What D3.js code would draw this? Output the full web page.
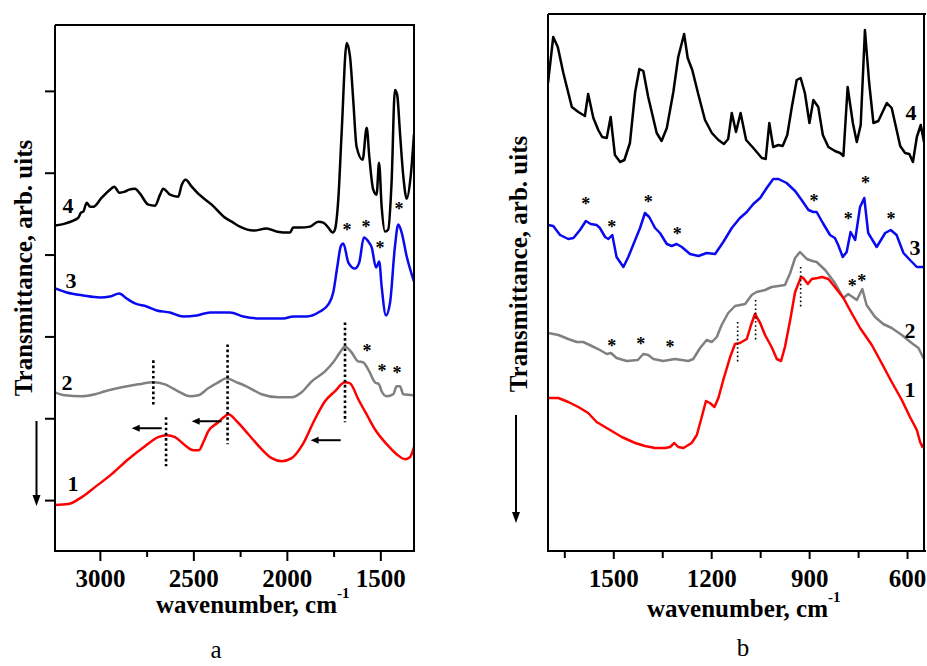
<!DOCTYPE html>
<html><head><meta charset="utf-8">
<script src="https://cdn.jsdelivr.net/npm/d3@7"></script>
<style>body{margin:0;background:#fff}svg{display:block}</style>
</head><body><svg id="c" width="927" height="666"></svg>
<script>
// ---------- DATA (wavenumber cm-1, transmittance arb. units) ----------
// Panel a
const a4 = [[3240,326],[3187,328],[3142,331],[3115,334],[3101,339],[3089,340],[3070,349],[3053,345],[3035,345],[2990,354],[2946,362],[2923,365],[2896,359],[2866,360],[2844,362],[2812,363],[2785,358],[2741,347],[2705,346],[2678,357],[2661,363],[2625,357],[2581,355],[2562,367],[2541,372],[2509,365],[2474,358],[2402,347],[2331,334],[2295,330],[2251,325],[2180,321],[2108,323],[2054,320],[2019,319],[1983,319],[1966,324],[1930,324],[1876,325],[1832,330],[1805,329],[1778,324],[1755,319],[1743,322],[1725,352],[1707,419],[1680,509],[1662,495],[1645,452],[1627,405],[1595,392],[1573,424],[1559,395],[1538,362],[1520,357],[1507,389],[1493,345],[1475,320],[1458,322],[1440,369],[1422,462],[1410,457],[1395,419],[1377,375],[1359,353],[1338,375],[1320,418]];
const a3 = [[3240,263],[3177,259],[3089,256],[3000,254],[2946,255],[2896,258],[2857,253],[2812,248],[2750,245],[2696,241],[2625,239],[2554,235],[2482,236],[2411,239],[2304,239],[2233,235],[2144,233],[2019,233],[1966,235],[1894,235],[1823,240],[1778,247],[1752,259],[1730,285],[1712,305],[1698,308],[1671,289],[1636,283],[1613,289],[1588,314],[1564,310],[1546,304],[1523,284],[1506,290],[1493,265],[1470,236],[1448,249],[1422,305],[1404,327],[1386,319],[1359,295],[1320,270]];
const a2 = [[3240,159],[3187,156],[3097,155],[3026,157],[2973,160],[2883,164],[2795,167],[2714,169],[2652,167],[2581,160],[2518,155],[2474,156],[2421,163],[2367,169],[2322,173],[2268,169],[2206,164],[2135,157],[2046,154],[1974,154],[1921,159],[1867,170],[1796,180],[1752,189],[1716,199],[1689,205],[1654,199],[1619,190],[1592,189],[1565,182],[1529,169],[1507,167],[1493,160],[1466,155],[1431,157],[1413,165],[1395,165],[1377,157],[1320,156]];
const a1 = [[3240,46],[3169,47],[3097,54],[3026,64],[2937,77],[2848,92],[2759,105],[2688,114],[2643,116],[2598,114],[2545,106],[2500,101],[2470,101],[2447,109],[2420,120],[2367,129],[2331,135],[2313,137],[2268,130],[2206,117],[2135,102],[2081,93],[2028,90],[1974,93],[1921,105],[1850,132],[1796,150],[1743,160],[1689,169],[1662,168],[1618,152],[1565,134],[1529,122],[1466,107],[1413,97],[1368,92],[1342,94],[1320,104]];
// Panel b
const b4 = [[1700,468],[1684,514],[1670,504],[1653,478],[1627,444],[1607,439],[1587,435],[1577,457],[1561,433],[1546,421],[1534,414],[1520,413],[1508,434],[1495,396],[1479,389],[1466,391],[1449,408],[1433,459],[1420,482],[1408,480],[1393,454],[1367,418],[1352,410],[1336,423],[1316,459],[1301,494],[1283,517],[1272,493],[1258,481],[1239,456],[1219,431],[1198,418],[1178,411],[1161,407],[1148,412],[1137,438],[1124,419],[1110,438],[1093,411],[1071,403],[1045,393],[1033,392],[1022,428],[1010,404],[994,406],[981,405],[967,416],[953,444],[938,471],[926,473],[913,458],[899,428],[887,451],[872,444],[858,416],[841,404],[821,400],[805,398],[795,395],[782,464],[766,428],[754,409],[742,426],[729,521],[716,468],[703,428],[688,430],[662,448],[647,443],[621,405],[606,398],[593,397],[582,389],[570,414],[558,426],[545,404]];
const b3 = [[1699,326],[1684,325],[1663,316],[1638,312],[1622,313],[1602,321],[1584,330],[1569,327],[1551,326],[1541,323],[1525,314],[1515,312],[1503,316],[1490,294],[1469,284],[1454,294],[1433,311],[1418,323],[1403,338],[1390,334],[1372,323],[1357,318],[1336,307],[1321,305],[1306,307],[1290,304],[1265,297],[1239,295],[1214,298],[1188,297],[1163,309],[1137,323],[1112,333],[1091,339],[1071,347],[1050,353],[1030,363],[1010,372],[994,372],[969,368],[943,360],[923,351],[902,341],[887,339],[877,339],[858,328],[836,316],[821,313],[811,306],[797,294],[785,299],[773,319],[759,311],[744,344],[731,353],[719,318],[693,304],[667,318],[650,321],[632,316],[611,298],[591,291],[570,284],[545,284]];
const b2 = [[1699,218],[1668,216],[1638,212],[1612,209],[1592,209],[1566,205],[1541,201],[1520,197],[1507,198],[1490,193],[1459,190],[1425,191],[1408,197],[1393,196],[1377,192],[1347,190],[1311,192],[1290,191],[1270,190],[1255,192],[1234,203],[1214,211],[1198,209],[1183,214],[1168,226],[1148,238],[1127,245],[1096,247],[1076,256],[1061,259],[1035,261],[1015,264],[994,265],[974,266],[958,278],[943,293],[928,299],[907,292],[890,290],[877,289],[851,281],[821,268],[795,253],[780,257],[754,251],[737,262],[724,246],[698,234],[673,227],[647,223],[616,216],[586,208],[565,203],[550,193],[545,192]];
const b1 = [[1699,153],[1668,153],[1638,149],[1607,144],[1577,138],[1551,129],[1515,122],[1474,114],[1433,108],[1403,105],[1372,103],[1341,103],[1326,104],[1313,108],[1301,104],[1285,103],[1260,108],[1244,116],[1229,134],[1216,150],[1204,148],[1190,144],[1178,153],[1163,171],[1142,194],[1127,207],[1112,208],[1091,212],[1078,226],[1066,237],[1050,228],[1035,216],[1015,204],[999,192],[986,190],[974,204],[958,231],[943,259],[925,274],[918,273],[904,267],[892,272],[874,273],[860,274],[841,272],[821,264],[795,253],[770,238],[744,223],[708,206],[678,188],[647,169],[616,151],[591,134],[570,121],[560,109],[553,104],[545,109]];

// tick labels
const aMajorTicks = [3000, 2500, 2000, 1500];
const aMinorTicks = [2750, 2250, 1750];
const aYTicks = [51, 133, 215, 297, 379, 461];
const bMajorTicks = [1500, 1200, 900, 600];
const bMinorTicks = [1650, 1350, 1050, 750];

// annotations (data coordinates)
const aLabels = [["4",3170,346],["3",3154,271],["2",3176,169],["1",3144,67]];
const aStars = [[1678,324],[1577,327],[1502,306],[1400,345],[1572,203],[1491,183],[1411,181]];
const aDots = [[2714,191,144],[2646,134,85],[2317,207,107],[1689,229,129]];
const aArrows = [[2669,2830,123],[2349,2509,130],[1712,1873,111]];
const bLabels = [["4",588,438],["3",576,303],["2",591,220],["1",591,161]];
const bStars = [[1584,350],[1505,327],[1393,352],[1304,320],[885,353],[780,335],[727,371],[649,335],[768,268],[739,273],[1505,208],[1416,210],[1326,207]];
const bDots = [[1119,229,188],[1064,251,209],[926,284,243]];

// ---------- DRAW ----------
const svg = d3.select('#c');
const serif = '"Liberation Serif","Times New Roman",Times,serif';

function arrow(g, x1, y1, x2, y2, hl, hw) {
  const dx = x2 - x1, dy = y2 - y1, L = Math.hypot(dx, dy);
  const ux = dx / L, uy = dy / L;
  const bx = x2 - ux * hl, by = y2 - uy * hl;
  g.append('line').attr('x1', x1).attr('y1', y1).attr('x2', bx + ux * 1).attr('y2', by + uy * 1)
    .attr('stroke', '#000').attr('stroke-width', 2);
  g.append('path').attr('d', `M${x2},${y2}L${bx - uy * hw / 2},${by + ux * hw / 2}L${bx + uy * hw / 2},${by - ux * hw / 2}Z`)
    .attr('fill', '#000');
}

function panel(cfg) {
  const g = svg.append('g');
  const x = d3.scaleLinear().domain(cfg.xDomain).range([cfg.left, cfg.right]);
  const y = d3.scaleLinear().domain(cfg.yDomain).range([cfg.bottom, cfg.top]);
  const clipId = 'clip' + cfg.id;
  svg.append('clipPath').attr('id', clipId).append('rect')
    .attr('x', cfg.left).attr('y', cfg.top).attr('width', cfg.right - cfg.left).attr('height', cfg.bottom - cfg.top);

  const line = d3.line().x(d => x(d[0])).y(d => y(d[1])).curve(cfg.curve);
  const cg = g.append('g').attr('clip-path', `url(#${clipId})`);
  cfg.series.forEach(s => {
    cg.append('path').datum(s.data).attr('d', line).attr('fill', 'none')
      .attr('stroke', s.color).attr('stroke-width', 2.5).attr('stroke-linejoin', 'round');
  });

  cfg.dots.forEach(d => {
    g.append('line').attr('x1', x(d[0])).attr('x2', x(d[0])).attr('y1', y(d[1])).attr('y2', y(d[2]))
      .attr('stroke', '#000').attr('stroke-width', cfg.dotW).attr('stroke-dasharray', cfg.dotDash);
  });
  (cfg.arrows || []).forEach(a => arrow(g, x(a[0]), y(a[2]), x(a[1]), y(a[2]), 8, 7));

  cfg.stars.forEach(s => {
    g.append('text').attr('x', x(s[0])).attr('y', y(s[1])).attr('dy', '0.48em')
      .attr('text-anchor', 'middle').attr('font-family', serif).attr('font-weight', 'bold')
      .attr('font-size', 18).text('*');
  });
  cfg.labels.forEach(l => {
    g.append('text').attr('x', x(l[1])).attr('y', y(l[2])).attr('dy', '0.33em')
      .attr('text-anchor', 'middle').attr('font-family', serif).attr('font-weight', 'bold')
      .attr('font-size', 22).text(l[0]);
  });

  const fr = g.append('g').attr('fill', 'none').attr('stroke', '#000').attr('stroke-width', 2);
  fr.append('line').attr('x1', cfg.left).attr('x2', cfg.right + 1).attr('y1', cfg.top).attr('y2', cfg.top);
  fr.append('line').attr('x1', cfg.left).attr('x2', cfg.left).attr('y1', cfg.top).attr('y2', cfg.bottom);
  fr.append('line').attr('x1', cfg.rightBorder).attr('x2', cfg.rightBorder).attr('y1', cfg.top).attr('y2', cfg.bottom);

  const xa = d3.axisBottom(x).tickValues(cfg.major).tickSize(cfg.majorLen).tickSizeOuter(0).tickPadding(cfg.pad).tickFormat(d3.format('d'));
  const gx = g.append('g').attr('transform', `translate(0,${cfg.bottom})`).call(xa);
  gx.select('.domain').attr('stroke-width', 2).attr('d', `M${cfg.left - 1},0H${cfg.right + 1}`);
  gx.selectAll('.tick line').attr('stroke-width', 2);
  gx.selectAll('text').attr('font-family', serif).attr('font-weight', 'bold').attr('font-size', 25).attr('fill', '#000');
  const xm = d3.axisBottom(x).tickValues(cfg.minor).tickSize(cfg.minorLen).tickSizeOuter(0).tickFormat('');
  const gm = g.append('g').attr('transform', `translate(0,${cfg.bottom})`).call(xm);
  gm.select('.domain').remove();
  gm.selectAll('.tick line').attr('stroke-width', 2);

  if (cfg.yTicks) {
    const ya = d3.axisLeft(y).tickValues(cfg.yTicks).tickSize(10).tickSizeOuter(0).tickFormat('');
    const gy = g.append('g').attr('transform', `translate(${cfg.left},0)`).call(ya);
    gy.select('.domain').remove();
    gy.selectAll('.tick line').attr('stroke-width', 2);
  }

  const t = g.append('text').attr('x', cfg.titleX).attr('y', cfg.titleY)
    .attr('font-family', serif).attr('font-weight', 'bold').attr('font-size', 25).attr('fill', '#000');
  t.append('tspan').text('wavenumber, cm');
  t.append('tspan').attr('dy', -15).attr('font-size', 15).text('-1');

  g.append('text').attr('transform', `translate(${cfg.yTitleX},${cfg.yTitleY}) rotate(-90)`)
    .attr('text-anchor', 'middle').attr('font-family', serif).attr('font-weight', 'bold')
    .attr('font-size', 25).text('Transmittance, arb. uits');
  arrow(g, cfg.bigArrowX, cfg.bigArrowY1, cfg.bigArrowX, cfg.bigArrowY2, 11, 8);

  g.append('text').attr('x', cfg.letterX).attr('y', cfg.letterY).attr('text-anchor', 'middle')
    .attr('font-family', serif).attr('font-size', 25).text(cfg.letter);
}

panel({
  id: 'a', xDomain: [3240, 1320], left: 55, right: 414, rightBorder: 414,
  yDomain: [0, 527], top: 25, bottom: 551,
  curve: d3.curveMonotoneX,
  series: [{data: a4, color: '#000000'}, {data: a3, color: '#0a0af0'}, {data: a2, color: '#808080'}, {data: a1, color: '#ff0000'}],
  dots: aDots, dotW: 2.6, dotDash: '2.6,2.6', arrows: aArrows,
  stars: aStars, labels: aLabels,
  major: aMajorTicks, minor: aMinorTicks, majorLen: 10, minorLen: 6, pad: 8, yTicks: aYTicks,
  titleX: 156, titleY: 613, yTitleX: 32, yTitleY: 268,
  bigArrowX: 36.5, bigArrowY1: 421, bigArrowY2: 506,
  letter: 'a', letterX: 216, letterY: 658
});

panel({
  id: 'b', xDomain: [1700, 545], left: 548, right: 925, rightBorder: 924,
  yDomain: [0, 537], top: 14, bottom: 551,
  curve: d3.curveLinear,
  series: [{data: b4, color: '#000000'}, {data: b3, color: '#0a0af0'}, {data: b2, color: '#808080'}, {data: b1, color: '#ff0000'}],
  dots: bDots, dotW: 1.6, dotDash: '1.6,2.6',
  stars: bStars, labels: bLabels,
  major: bMajorTicks, minor: bMinorTicks, majorLen: 8, minorLen: 7, pad: 10,
  titleX: 647, titleY: 617, yTitleX: 527, yTitleY: 264,
  bigArrowX: 516, bigArrowY1: 415, bigArrowY2: 523,
  letter: 'b', letterX: 743, letterY: 656
});
</script>
</body></html>
